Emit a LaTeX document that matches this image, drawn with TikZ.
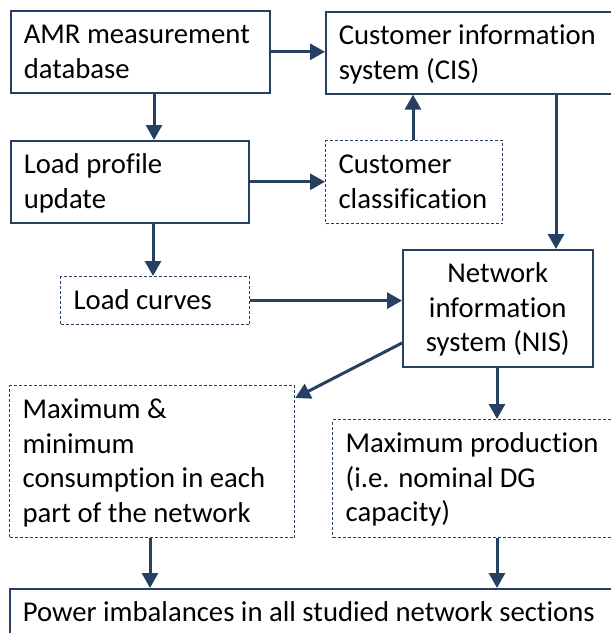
\documentclass[tikz,border=0pt]{standalone}
\usepackage{fontspec}
\setmainfont{Carlito}[Ligatures=NoCommon]
\usetikzlibrary{arrows.meta,calc}
\definecolor{navy}{RGB}{38,64,97}
\newcommand\tbox[3]{\parbox[c][#2][t]{#1}{\raggedright\leftskip=13pt\relax\rule{0pt}{33pt}#3}}
\newcommand\cbox[3]{\parbox[c][#2][t]{#1}{\centering\rule{0pt}{33pt}#3}}
\tikzset{
  solidbox/.style={draw=navy, line width=1.6pt, rectangle, inner sep=0pt, anchor=north west, fill=white},
  dashbox/.style={draw=navy, line width=1.2pt, dash pattern=on 3pt off 2pt, rectangle, inner sep=0pt, anchor=north west, fill=white},
  arr/.style={draw=navy, line width=3pt, -{Triangle[length=15pt,width=16pt]}},
}
\begin{document}
\begin{tikzpicture}[x=1pt,y=-1pt,font=\fontsize{28.7pt}{34.5pt}\selectfont]
\path[use as bounding box] (0,0) rectangle (611,633);
\clip (0,0) rectangle (611,633);
\node[solidbox] (AMR) at (10,10) {\tbox{259pt}{82pt}{AMR measurement\\database}};
\node[solidbox] (CIS) at (325,11) {\tbox{300pt}{82pt}{Customer information\\system (CIS)}};
\node[solidbox] (LP) at (10,140) {\tbox{238pt}{82pt}{Load profile\\update}};
\node[dashbox] (CC) at (325,140) {\tbox{177pt}{83pt}{Customer\\classification}};
\node[dashbox] (LC) at (60,276) {\tbox{189pt}{48pt}{Load curves}};
\node[solidbox] (NIS) at (402,249) {\cbox{190pt}{117pt}{Network\\information\\system (NIS)}};
\node[dashbox] (MM) at (9,385) {\tbox{285pt}{152pt}{Maximum \&\\minimum\\consumption in each\\part of the network}};
\node[dashbox] (MP) at (332,419) {\tbox{290pt}{118pt}{Maximum production\\(i.e. nominal DG\\capacity)}};
\node[solidbox] (PW) at (9,588) {\tbox{615pt}{60pt}{Power imbalances in all studied network sections}};
\coordinate (nisout) at ($(NIS.north west)+(0,94)$);
\coordinate (mmin) at ($(MM.north east)+(0,13)$);
\draw[arr] (AMR.east) -- (AMR.east -| CIS.west);
\draw[arr] (154,0 |- AMR.south) -- (154,0 |- LP.north);
\draw[arr] (LP.east) -- (LP.east -| CC.west);
\draw[arr] (413,0 |- CC.north) -- (413,0 |- CIS.south);
\draw[arr] (556,0 |- CIS.south) -- (556,0 |- NIS.north);
\draw[arr] (153,0 |- LP.south) -- (153,0 |- LC.north);
\draw[arr] (LC.east) -- (LC.east -| NIS.west);
\draw[arr] (nisout) -- (mmin);
\draw[arr] (497,0 |- NIS.south) -- (497,0 |- MP.north);
\draw[arr] (150,0 |- MM.south) -- (150,0 |- PW.north);
\draw[arr] (497,0 |- MP.south) -- (497,0 |- PW.north);
\end{tikzpicture}
\end{document}
